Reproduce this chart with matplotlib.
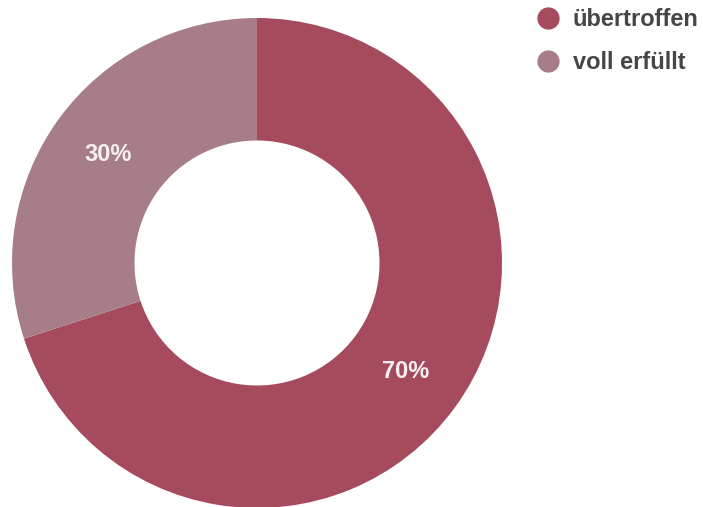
import matplotlib
matplotlib.use("Agg")
import matplotlib.pyplot as plt
from matplotlib.lines import Line2D
import numpy as np

categories = ["übertroffen", "voll erfüllt"]
shares = [70, 30]
colors = ["#A64A5E", "#A77E88"]

plt.rcParams["font.family"] = ["Liberation Sans", "DejaVu Sans"]

fig = plt.figure(figsize=(7.03, 5.07), dpi=100)
W, H = 703, 507
cx, cy, r = 257, 263, 245
ax = fig.add_axes([(cx - r) / W, (H - cy - r) / H, 2 * r / W, 2 * r / H])

wedges, _ = ax.pie(
    shares,
    colors=colors,
    startangle=90,
    counterclock=False,
    radius=1.0,
    wedgeprops=dict(width=0.5, linewidth=0),
)
ax.set_xlim(-1, 1)
ax.set_ylim(-1, 1)
ax.set_aspect("equal")
ax.axis("off")

# percentage labels in the middle of each ring segment
for w, v in zip(wedges, shares):
    ang = np.deg2rad((w.theta1 + w.theta2) / 2)
    ax.text(0.75 * np.cos(ang), 0.75 * np.sin(ang), f"{v}%",
            ha="center", va="center", color="#F7F0F2",
            fontsize=17, fontweight="bold")

handles = [Line2D([], [], marker="o", linestyle="none", markersize=15,
                  markerfacecolor=c, markeredgecolor=c) for c in colors]
fig.legend(handles, categories, loc="upper left",
           bbox_to_anchor=(536 / W, 1 - 8 / H), frameon=False,
           prop=dict(size=17, weight="bold"), labelcolor="#464646",
           handlelength=1.0, handletextpad=0.55, labelspacing=0.85,
           borderaxespad=0, borderpad=0)

fig.savefig("out.png", dpi=100)
